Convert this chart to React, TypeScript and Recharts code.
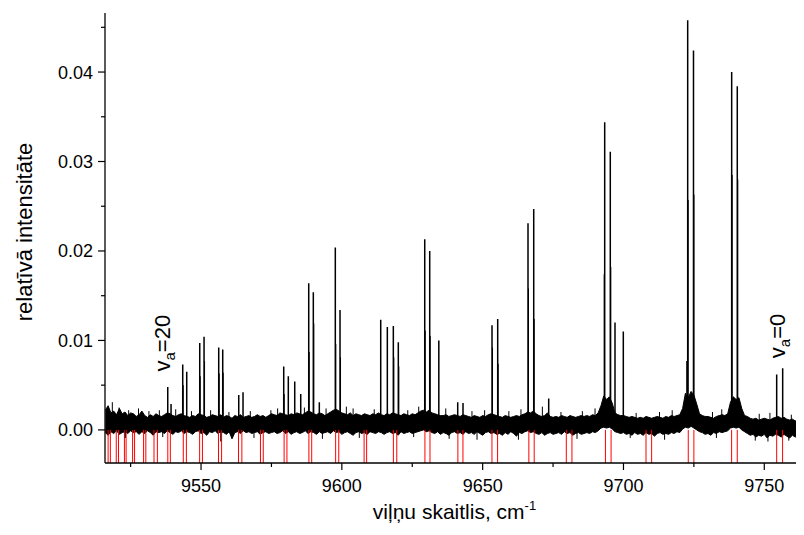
import React from "react";
import { ComposedChart, Line, Area, XAxis, YAxis, ReferenceDot, Label } from "recharts";

const FONT = "'Liberation Sans', Arial, Helvetica, sans-serif";

const X_DOMAIN: [number, number] = [9515.9, 9764.1];
const Y_DOMAIN: [number, number] = [-0.0037, 0.0466];
const X_TICKS = [9525, 9550, 9575, 9600, 9625, 9650, 9675, 9700, 9725, 9750];
const X_LABELED = [9550, 9600, 9650, 9700, 9750];
const Y_TICKS = [0, 0.005, 0.01, 0.015, 0.02, 0.025, 0.03, 0.035, 0.04, 0.045];
const Y_LABELED = ["0.00", "0.01", "0.02", "0.03", "0.04"];

// main spectral lines (wavenumber, intensity)
const peakX = [
  9538.18, 9539.35, 9543.5, 9544.92, 9549.54, 9551.07, 9556.28, 9557.7, 9563.39, 9564.91,
  9579.36, 9580.99, 9583.27, 9585.4, 9588.24, 9589.87, 9592.0, 9597.68, 9599.35, 9613.8,
  9616.15, 9618.28, 9620.05, 9629.43, 9631.2, 9634.43, 9641.14, 9643.02, 9653.32, 9655.34,
  9666.1, 9668.13, 9673.45, 9693.33, 9695.32, 9696.99, 9699.94, 9722.8, 9724.86, 9738.42,
  9740.41, 9754.4, 9756.53,
];
const peakH = [
  0.0048, 0.0029, 0.0073, 0.0065, 0.0097, 0.0104, 0.0092, 0.009, 0.0039, 0.0042,
  0.0071, 0.006, 0.0054, 0.004, 0.0164, 0.0154, 0.0031, 0.0204, 0.0134, 0.0123,
  0.0115, 0.0116, 0.0098, 0.0213, 0.02, 0.01, 0.0031, 0.003, 0.0117, 0.0124,
  0.0231, 0.0247, 0.0035, 0.0344, 0.0311, 0.012, 0.011, 0.0458, 0.0424, 0.04,
  0.0384, 0.0062, 0.0069,
];
// weaker companion components next to the main lines
const subX = [
  9543.68, 9549.72, 9551.25, 9556.46, 9557.88, 9579.54, 9588.42, 9590.05, 9597.86, 9599.53,
  9618.46, 9620.23, 9629.61, 9631.38, 9653.5, 9655.52, 9666.28, 9668.31, 9693.15, 9695.5,
  9722.45, 9722.98, 9725.04, 9738.6, 9740.59,
];
const subH = [
  0.005, 0.006, 0.0077, 0.0063, 0.0064, 0.004, 0.0087, 0.0119, 0.0096, 0.0081,
  0.0081, 0.0071, 0.0111, 0.0105, 0.0092, 0.0074, 0.0158, 0.0124, 0.0174, 0.0182,
  0.0077, 0.0257, 0.0263, 0.0285, 0.028,
];
// calculated line positions (red markers)
const markerX = [
  9517.0, 9517.8, 9519.9, 9520.7, 9522.8, 9523.4, 9525.7, 9526.4, 9529.6, 9530.4,
  9533.3, 9534.5, 9538.2, 9539.1, 9543.7, 9544.8, 9549.5, 9550.5, 9556.2, 9557.3,
  9563.3, 9564.5, 9571.1, 9572.1, 9579.5, 9580.5, 9588.3, 9589.3, 9597.8, 9598.9,
  9607.9, 9608.8, 9618.3, 9619.5, 9629.5, 9631.3, 9641.2, 9643.0, 9653.3, 9655.3,
  9666.4, 9668.3, 9679.7, 9681.7, 9693.6, 9695.6, 9708.0, 9710.0, 9723.0, 9725.0,
  9738.4, 9740.4, 9754.4, 9756.5,
];

// noise band envelope, sampled every 1 cm-1 from 9516
const noiseStart = 9516;
const noiseHi = [
  0.0022, 0.0027, 0.0019, 0.0021, 0.0017, 0.0024, 0.0018, 0.002, 0.0016, 0.0019,
  0.0018, 0.0015, 0.0017, 0.0021, 0.0016, 0.0014, 0.0017, 0.0015, 0.0018, 0.0016,
  0.0015, 0.0017, 0.0019, 0.0018, 0.0016, 0.0015, 0.0017, 0.0018, 0.0016, 0.0015,
  0.0014, 0.0016, 0.0015, 0.0018, 0.0017, 0.0016, 0.0014, 0.0015, 0.0017, 0.0016,
  0.0015, 0.0017, 0.0014, 0.0016, 0.0015, 0.0013, 0.0016, 0.0015, 0.0017, 0.0014,
  0.0015, 0.0016, 0.0014, 0.0015, 0.0017, 0.0015, 0.0016, 0.0014, 0.0016, 0.0018,
  0.0017, 0.0016, 0.0019, 0.0018, 0.0017, 0.0016, 0.0018, 0.0017, 0.0019, 0.0018,
  0.0017, 0.0019, 0.0021, 0.002, 0.0018, 0.0017, 0.0019, 0.0018, 0.0016, 0.0018,
  0.002, 0.0022, 0.0023, 0.0021, 0.0019, 0.0018, 0.0017, 0.0019, 0.0016, 0.0018,
  0.0017, 0.0016, 0.0018, 0.0017, 0.0016, 0.0018, 0.0017, 0.0019, 0.0017, 0.0016,
  0.0018, 0.0017, 0.0019, 0.0018, 0.0017, 0.0016, 0.0018, 0.0017, 0.0016, 0.0018,
  0.0017, 0.0019, 0.0021, 0.0022, 0.002, 0.0022, 0.0019, 0.0018, 0.0017, 0.0016,
  0.0016, 0.0017, 0.0015, 0.0016, 0.0017, 0.0016, 0.0015, 0.0017, 0.0016, 0.0015,
  0.0014, 0.0016, 0.0015, 0.0014, 0.0016, 0.0015, 0.0017, 0.0018, 0.0017, 0.0016,
  0.0015, 0.0014, 0.0016, 0.0015, 0.0014, 0.0015, 0.0016, 0.0015, 0.0017, 0.0018,
  0.002, 0.0019, 0.0021, 0.0018, 0.0016, 0.0015, 0.0016, 0.0019, 0.0015, 0.0014,
  0.0015, 0.0014, 0.0016, 0.0015, 0.0014, 0.0016, 0.0015, 0.0014, 0.0015, 0.0016,
  0.0015, 0.0016, 0.0015, 0.0017, 0.0016, 0.0019, 0.0027, 0.0038, 0.0034, 0.0037,
  0.003, 0.0019, 0.0017, 0.0016, 0.0016, 0.0015, 0.0014, 0.0015, 0.0014, 0.0013,
  0.0014, 0.0013, 0.0015, 0.0014, 0.0013, 0.0014, 0.0015, 0.0014, 0.0013, 0.0015,
  0.0014, 0.0016, 0.0015, 0.0016, 0.0017, 0.0024, 0.0041, 0.0036, 0.0043, 0.0039,
  0.0029, 0.0018, 0.0016, 0.0015, 0.0015, 0.0014, 0.0013, 0.0015, 0.0016, 0.0017,
  0.0016, 0.0018, 0.0031, 0.0037, 0.0034, 0.0036, 0.0024, 0.0016, 0.0015, 0.0013,
  0.0012, 0.0013, 0.0011, 0.0012, 0.0013, 0.0012, 0.0011, 0.0013, 0.0014, 0.0015,
  0.0013, 0.0014, 0.0012, 0.0011, 0.0012, 0.001, 0.0012, 0.0011, 0.0012,
];
const noiseLo = [
  -0.0003, -0.0006, -0.0002, -0.0004, -0.0001, -0.0005, -0.0003, -0.0002, -0.0004, -0.0001,
  -0.0003, -0.0002, -0.0005, -0.0002, -0.0004, -0.0001, -0.0003, -0.0006, -0.0002, -0.0003,
  -0.0002, -0.0004, -0.0001, -0.0003, -0.0005, -0.0002, -0.0003, -0.0001, -0.0004, -0.0002,
  -0.0003, -0.0005, -0.0002, -0.0001, -0.0004, -0.0003, -0.0006, -0.0002, -0.0003, -0.0001,
  -0.0004, -0.0002, -0.0003, -0.0005, -0.0002, -0.001, -0.0003, -0.0002, -0.0004, -0.0001,
  -0.0003, -0.0002, -0.0004, -0.0003, -0.0002, -0.0005, -0.0003, -0.0002, -0.0004, -0.0003,
  -0.0002, -0.0004, -0.0003, -0.0001, -0.0004, -0.0002, -0.0005, -0.0003, -0.0002, -0.0004,
  -0.0003, -0.0001, -0.0004, -0.0002, -0.0003, -0.0005, -0.0002, -0.0004, -0.0003, -0.0002,
  -0.0004, -0.0001, -0.0003, -0.0002, -0.0005, -0.0003, -0.0002, -0.0004, -0.0006, -0.0003,
  -0.0002, -0.0004, -0.0003, -0.0005, -0.0002, -0.0003, -0.0004, -0.0002, -0.0003, -0.0005,
  -0.0003, -0.0002, -0.0004, -0.0003, -0.0006, -0.0002, -0.0004, -0.0003, -0.0002, -0.0004,
  -0.0003, -0.0002, -0.0001, 0.0, -0.0002, -0.0001, -0.0003, -0.0004, -0.0002, -0.0005,
  -0.0003, -0.0004, -0.0006, -0.0003, -0.0002, -0.0004, -0.0003, -0.0005, -0.0002, -0.0004,
  -0.0003, -0.0005, -0.0002, -0.0004, -0.0006, -0.0003, -0.0002, -0.0004, -0.0003, -0.0005,
  -0.0004, -0.0006, -0.0003, -0.0005, -0.0002, -0.0004, -0.0007, -0.0003, -0.0004, -0.0002,
  -0.0001, -0.0003, -0.0002, -0.0004, -0.0005, -0.0003, -0.0006, -0.0004, -0.0003, -0.0005,
  -0.0004, -0.0003, -0.0005, -0.0002, -0.0004, -0.0003, -0.0006, -0.0004, -0.0003, -0.0005,
  -0.0004, -0.0003, -0.0004, -0.0002, -0.0003, -0.0001, 0.0002, 0.0003, 0.0002, 0.0003,
  0.0001, -0.0002, -0.0003, -0.0004, -0.0003, -0.0005, -0.0004, -0.0006, -0.0003, -0.0005,
  -0.0004, -0.0006, -0.0003, -0.0005, -0.0004, -0.0007, -0.0004, -0.0003, -0.0005, -0.0004,
  -0.0005, -0.0003, -0.0004, -0.0002, -0.0003, 0.0001, 0.0003, 0.0002, 0.0004, 0.0002,
  0.0, -0.0002, -0.0003, -0.0005, -0.0004, -0.0006, -0.0003, -0.0004, -0.0002, -0.0003,
  -0.0002, -0.0001, 0.0002, 0.0003, 0.0002, 0.0003, 0.0, -0.0002, -0.0004, -0.0006,
  -0.0005, -0.0008, -0.0006, -0.0007, -0.0005, -0.0009, -0.0006, -0.0007, -0.0005, -0.0006,
  -0.0008, -0.0005, -0.0007, -0.0009, -0.0006, -0.0008, -0.0007, -0.001, -0.0007,
];
// isolated noise spikes poking out of the band
const spikeUpX = [
  9518.5, 9520.9, 9524.3, 9527.8, 9531.5, 9535.2, 9541.0, 9546.6, 9553.4, 9559.9,
  9567.5, 9574.8, 9577.2, 9586.7, 9594.4, 9601.6, 9604.0, 9611.5, 9623.4, 9627.3,
  9636.9, 9646.2, 9650.7, 9659.3, 9663.6, 9671.2, 9677.8, 9685.4, 9689.9, 9704.5,
  9712.8, 9717.3, 9731.6, 9734.9, 9748.2, 9752.0, 9759.6, 9762.3,
];
const spikeUpH = [
  0.0031, 0.0025, 0.0022, 0.0024, 0.0021, 0.0022, 0.0023, 0.0021, 0.0022, 0.002,
  0.0021, 0.0022, 0.0024, 0.0025, 0.0024, 0.0026, 0.0024, 0.0023, 0.0022, 0.0026,
  0.0024, 0.0021, 0.0022, 0.0021, 0.0023, 0.0026, 0.002, 0.0021, 0.0024, 0.0019,
  0.002, 0.0022, 0.002, 0.0023, 0.0018, 0.0019, 0.0017, 0.0019,
];
const spikeDownX = [
  9523.1, 9536.4, 9557.0, 9568.8, 9593.1, 9606.2, 9625.5, 9638.1, 9648.0, 9662.7,
  9683.5, 9702.4, 9714.6, 9733.0, 9746.8, 9751.3, 9758.7, 9763.0,
];
const spikeDownL = [
  -0.0009, -0.0008, -0.0013, -0.0009, -0.001, -0.0009, -0.0008, -0.001, -0.0011, -0.0011,
  -0.001, -0.0009, -0.0011, -0.0009, -0.0012, -0.0013, -0.0012, -0.0011,
];
const PEAK_BASE = 0.0008;
const MARKER_TOP = 0;

const bandData = noiseHi.map((hi, i) => ({ x: noiseStart + i, band: [noiseLo[i], hi] }));
const segments = (xs: number[], top: (i: number) => number, bottom: number) =>
  xs.flatMap((x, i) => [
    { x, v: bottom },
    { x, v: top(i) },
    { x, v: null as number | null },
  ]);
const markerData = segments(markerX, () => MARKER_TOP, Y_DOMAIN[0]);
const peakData = segments(peakX, (i) => peakH[i], PEAK_BASE);
const subData = segments(subX, (i) => subH[i], PEAK_BASE);
const spikeData = [
  ...segments(spikeUpX, (i) => spikeUpH[i], PEAK_BASE),
  ...segments(spikeDownX, (i) => spikeDownL[i], PEAK_BASE),
].sort((a, b) => a.x - b.x);

const XTick = (props: any) => {
  const { x, y, payload } = props;
  const major = X_LABELED.includes(payload.value);
  return (
    <g>
      <line x1={x} x2={x} y1={y} y2={y + (major ? 7 : 4)} stroke="#000" strokeWidth={1.2} />
      {major && (
        <text x={x} y={y + 29} textAnchor="middle" fontSize={18} fontFamily={FONT} fill="#000">
          {payload.value}
        </text>
      )}
    </g>
  );
};

const YTick = (props: any) => {
  const { x, y, payload } = props;
  const lbl = payload.value.toFixed(2);
  const major = Y_LABELED.includes(lbl) && Math.abs(payload.value * 100 - Math.round(payload.value * 100)) < 1e-6;
  return (
    <g>
      <line x1={x - (major ? 7 : 4)} x2={x} y1={y} y2={y} stroke="#000" strokeWidth={1.2} />
      {major && (
        <text x={x - 12} y={y + 6.5} textAnchor="end" fontSize={18} fontFamily={FONT} fill="#000">
          {lbl}
        </text>
      )}
    </g>
  );
};

const XTitle = (props: any) => {
  const vb = props.viewBox;
  return (
    <text x={vb.x + vb.width / 2} y={vb.y + 56} textAnchor="middle" fontSize={21} fontFamily={FONT} fill="#000">
      viļņu skaitlis, cm
      <tspan fontSize={13} dy={-9}>-1</tspan>
    </text>
  );
};

const YTitle = (props: any) => {
  const vb = props.viewBox;
  const cx = 24;
  const cy = vb.y + vb.height / 2 - 6;
  return (
    <text x={cx} y={cy} transform={`rotate(-90 ${cx} ${cy})`} textAnchor="middle" fontSize={22} fontFamily={FONT} fill="#000">
      relatīvā intensitāte
    </text>
  );
};

const VaLabel = (n: string) => (p: any) => {
  const cx = p.cx;
  const cy = p.cy;
  return (
    <text x={cx} y={cy + 7} transform={`rotate(-90 ${cx} ${cy})`} textAnchor="middle" fontSize={22} fontFamily={FONT} fill="#000">
      v<tspan fontSize={15} dy={5}>a</tspan>
      <tspan dy={-5}>={n}</tspan>
    </text>
  );
};

const seriesCommon = {
  type: "linear" as const,
  dot: false,
  activeDot: false,
  connectNulls: false,
  isAnimationActive: false,
};

export default function App() {
  return (
    <div style={{ width: 796, height: 527 }}>
      <ComposedChart width={796} height={527} margin={{ top: 5, right: 0, bottom: 0, left: 0 }}>
        <XAxis
          dataKey="x"
          type="number"
          domain={X_DOMAIN}
          allowDataOverflow
          ticks={X_TICKS}
          interval={0}
          tickSize={0}
          tickMargin={0}
          tickLine={false}
          tick={<XTick />}
          axisLine={{ stroke: "#000", strokeWidth: 1.3 }}
          height={72}
        >
          <Label content={<XTitle />} />
        </XAxis>
        <YAxis
          type="number"
          domain={Y_DOMAIN}
          allowDataOverflow
          ticks={Y_TICKS}
          interval={0}
          tickSize={0}
          tickMargin={0}
          tickLine={false}
          tick={<YTick />}
          axisLine={{ stroke: "#000", strokeWidth: 1.3 }}
          width={97}
        >
          <Label content={<YTitle />} />
        </YAxis>
        <Line data={markerData} dataKey="v" stroke="#ff0000" strokeWidth={1} {...seriesCommon} />
        <Area
          data={bandData}
          dataKey="band"
          type="linear"
          stroke="#000"
          strokeWidth={1}
          fill="#000"
          fillOpacity={1}
          dot={false}
          activeDot={false}
          isAnimationActive={false}
        />
        <Line data={spikeData} dataKey="v" stroke="#000" strokeWidth={1} {...seriesCommon} />
        <Line data={subData} dataKey="v" stroke="#000" strokeWidth={1} {...seriesCommon} />
        <Line data={peakData} dataKey="v" stroke="#000" strokeWidth={1.5} {...seriesCommon} />
        <ReferenceDot x={9536.5} y={0.0097} r={0} ifOverflow="visible" shape={VaLabel("20")} />
        <ReferenceDot x={9754.7} y={0.0105} r={0} ifOverflow="visible" shape={VaLabel("0")} />
      </ComposedChart>
    </div>
  );
}
